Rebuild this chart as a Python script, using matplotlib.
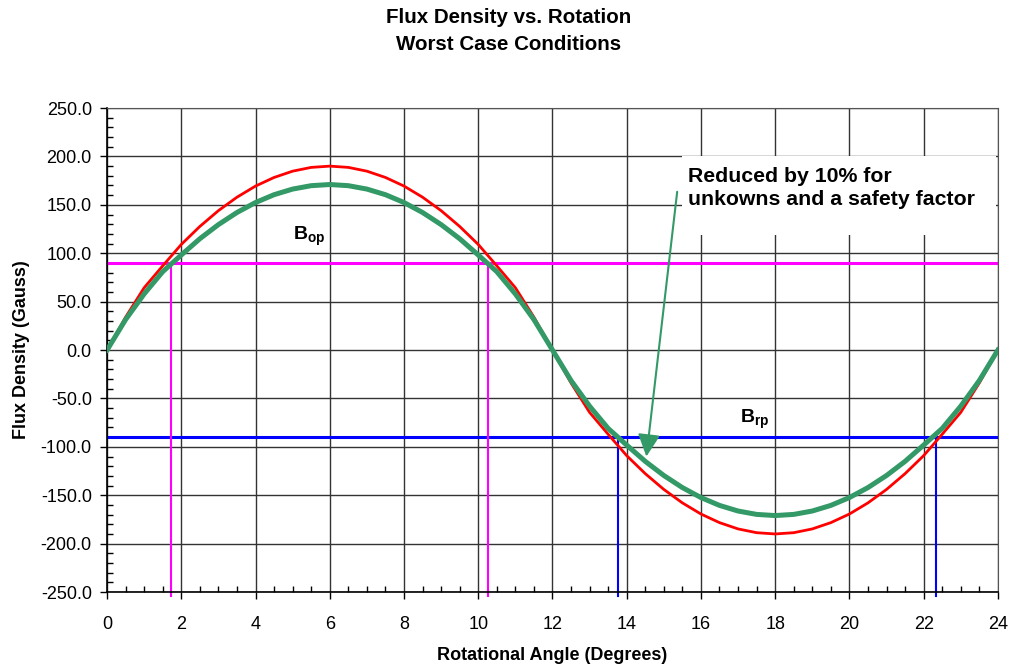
import numpy as np
import matplotlib
matplotlib.use("Agg")
import matplotlib.pyplot as plt
from matplotlib.patches import Rectangle
from matplotlib.ticker import MultipleLocator, FormatStrFormatter

plt.rcParams['font.family'] = ['Liberation Sans', 'DejaVu Sans']
plt.rcParams['mathtext.fontset'] = 'custom'
plt.rcParams['mathtext.rm'] = 'Liberation Sans:bold'
plt.rcParams['mathtext.bf'] = 'Liberation Sans:bold'

# rotational angle in degrees, half-degree steps
angle = np.arange(0, 24.5, 0.5)

# worst case flux density (red) and reduced by 10% (green)
flux_worst = [0, 34.0, 64.4, 87.0, 109.1, 127.7, 144.0, 157.9, 169.4, 178.3, 184.8, 188.7, 190.0,
              188.7, 184.8, 178.3, 169.4, 157.9, 144.0, 127.7, 109.1, 87.0, 64.4, 34.0, 0,
              -34.0, -64.4, -87.0, -109.1, -127.7, -144.0, -157.9, -169.4, -178.3, -184.8, -188.7, -190.0,
              -188.7, -184.8, -178.3, -169.4, -157.9, -144.0, -127.7, -109.1, -87.0, -64.4, -34.0, 0]
flux_reduced = [0, 31.5, 58.0, 81.0, 98.2, 115.0, 129.6, 142.1, 152.4, 160.5, 166.3, 169.8, 171.0,
                169.8, 166.3, 160.5, 152.4, 142.1, 129.6, 115.0, 98.2, 81.0, 58.0, 31.5, 0,
                -31.5, -58.0, -81.0, -98.2, -115.0, -129.6, -142.1, -152.4, -160.5, -166.3, -169.8, -171.0,
                -169.8, -166.3, -160.5, -152.4, -142.1, -129.6, -115.0, -98.2, -81.0, -58.0, -31.5, 0]

# operate / release points and their switching angles
b_op = 90.0
b_rp = -90.0
op_angles = [1.72, 10.25]
rp_angles = [13.77, 22.33]

fig = plt.figure(figsize=(10.1, 6.67), dpi=100)
ax = fig.add_axes([0.106, 0.1124, 0.882, 0.7256])

ax.set_xlim(0, 24)
ax.set_ylim(-250, 250)
ax.xaxis.set_major_locator(MultipleLocator(2))
ax.xaxis.set_minor_locator(MultipleLocator(0.5))
ax.yaxis.set_major_locator(MultipleLocator(50))
ax.yaxis.set_minor_locator(MultipleLocator(10))
ax.yaxis.set_major_formatter(FormatStrFormatter('%.1f'))
ax.tick_params(which='major', direction='out', length=5, width=1, labelsize=13)
ax.tick_params(axis='y', which='major', pad=6)
ax.tick_params(axis='x', which='major', pad=12)
ax.tick_params(which='minor', direction='in', length=4, width=1)
ax.grid(True, which='major', color='#333333', linewidth=1)
ax.set_axisbelow(True)
for side in ['top', 'right']:
    ax.spines[side].set_color('#555555')
for side in ['left', 'bottom']:
    ax.spines[side].set_linewidth(1.2)

# white box behind the note
ax.add_patch(Rectangle((15.5, 119), 8.45, 81, facecolor='white', edgecolor='none', zorder=1.5))

ax.axhline(b_op, color='#ff00ff', linewidth=2.2, zorder=2)
ax.axhline(b_rp, color='#0000ff', linewidth=2.2, zorder=2)
for a in op_angles:
    ax.plot([a, a], [b_op, -254], color='#ff00ff', linewidth=1.5, clip_on=False, zorder=2)
for a in rp_angles:
    ax.plot([a, a], [b_rp, -254], color='#0000ff', linewidth=1.5, clip_on=False, zorder=2)

ax.plot(angle, flux_worst, color='#ff0000', linewidth=2.0, zorder=3)
ax.plot(angle, flux_reduced, color='#339966', linewidth=3.6, zorder=4)

ax.text(5.01, 113.6, r'$\mathrm{B_{op}}$', fontsize=14, ha='left', va='baseline', zorder=5)
ax.text(17.05, -75.7, r'$\mathrm{B_{rp}}$', fontsize=14, ha='left', va='baseline', zorder=5)

ax.text(15.65, 189, 'Reduced by 10% for\nunkowns and a safety factor', fontsize=15.3,
        fontweight='bold', ha='left', va='top', linespacing=1.28, zorder=5)
ax.annotate('', xy=(14.53, -110), xytext=(15.36, 163.5),
            arrowprops=dict(arrowstyle='-|>', color='#339966', lw=1.5, mutation_scale=34,
                            shrinkA=0, shrinkB=0),
            zorder=5)

ax.set_xlabel('Rotational Angle (Degrees)', fontsize=13, fontweight='bold', labelpad=10)
ax.set_ylabel('Flux Density (Gauss)', fontsize=13, fontweight='bold', labelpad=8)
fig.suptitle('Flux Density vs. Rotation\nWorst Case Conditions', fontsize=14.8,
             fontweight='bold', x=0.504, y=0.988, linespacing=1.5)

fig.savefig('out.png', dpi=100)
